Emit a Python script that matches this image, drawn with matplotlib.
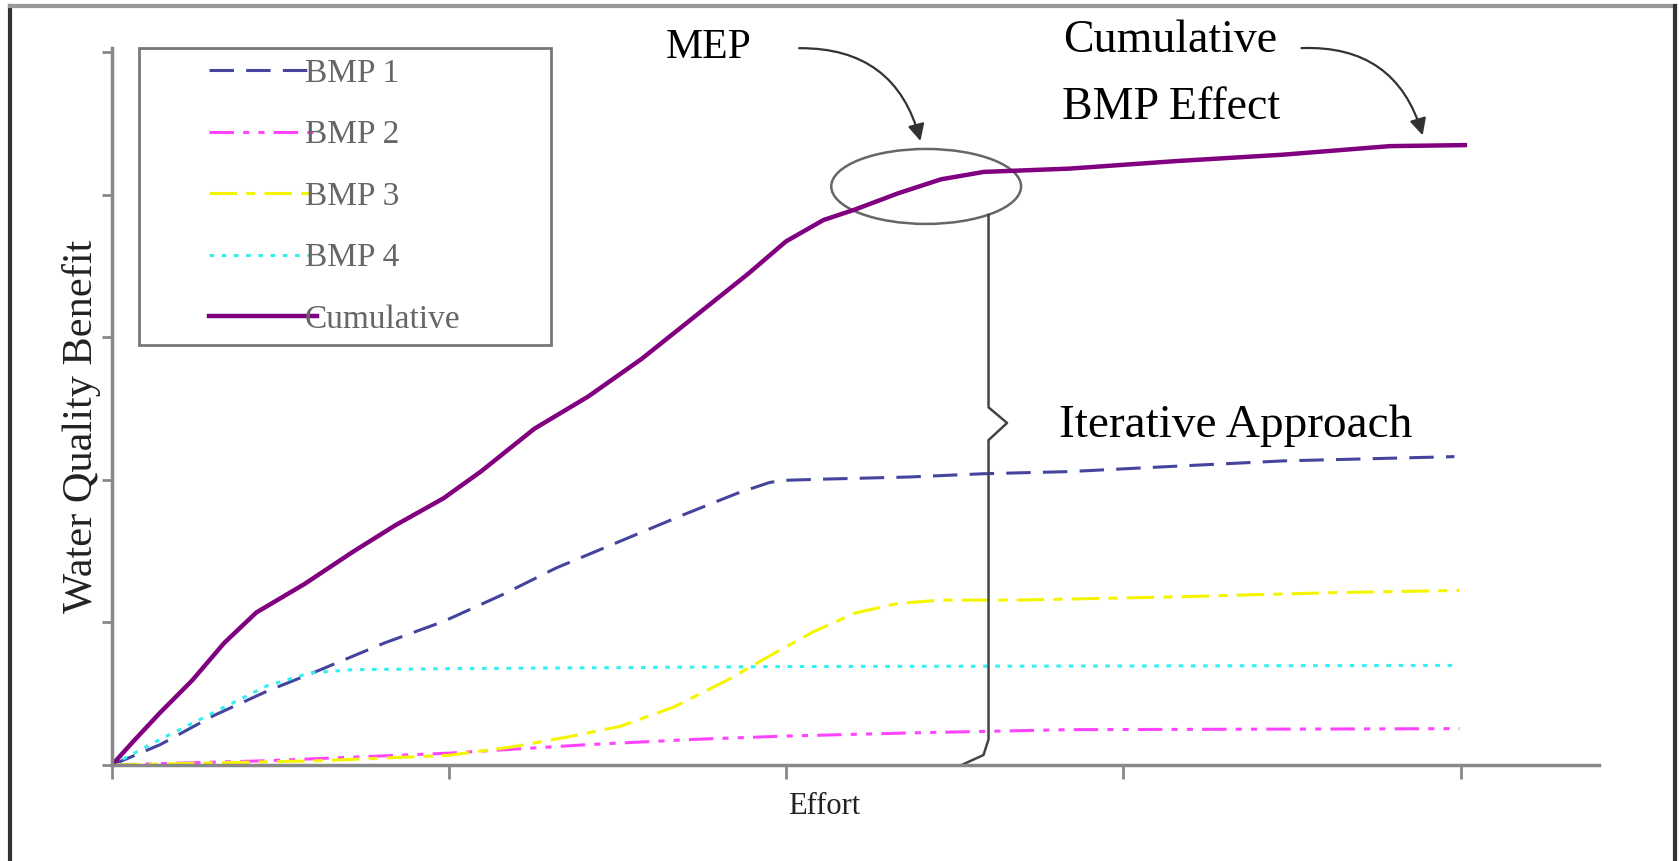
import matplotlib
matplotlib.use("Agg")
import matplotlib.pyplot as plt
from matplotlib.patches import Ellipse
from matplotlib.lines import Line2D

plt.rcParams['font.family'] = ['Liberation Serif', 'DejaVu Serif']

# values (effort, benefit)
cum_x = [0, 0.063, 0.143, 0.238, 0.333, 0.428, 0.571, 0.714, 0.841, 0.983, 1.094, 1.253,
         1.412, 1.570, 1.729, 1.888, 1.999, 2.110, 2.205, 2.332, 2.459, 2.586, 2.839,
         3.157, 3.474, 3.791, 4.013]
cum_y = [0, 0.165, 0.368, 0.594, 0.857, 1.070, 1.270, 1.495, 1.683, 1.871, 2.059, 2.360,
         2.585, 2.848, 3.148, 3.449, 3.674, 3.824, 3.899, 4.012, 4.110, 4.162, 4.185,
         4.238, 4.283, 4.343, 4.350]

bmp1_x = [0, 0.143, 0.301, 0.460, 0.619, 0.809, 0.983, 1.158, 1.317, 1.507, 1.697, 1.856,
          1.951, 1.999, 2.110, 2.364, 2.586, 2.839, 3.157, 3.474, 3.982]
bmp1_y = [0, 0.143, 0.346, 0.518, 0.669, 0.857, 1.007, 1.195, 1.382, 1.570, 1.758, 1.908,
          1.983, 1.998, 2.006, 2.021, 2.044, 2.059, 2.097, 2.134, 2.164]

bmp2_x = [0, 0.46, 0.999, 1.412, 1.729, 1.999, 2.364, 2.839, 3.997]
bmp2_y = [0, 0.03, 0.083, 0.143, 0.18, 0.203, 0.225, 0.248, 0.255]

bmp3_x = [0, 0.619, 0.999, 1.19, 1.348, 1.507, 1.666, 1.824, 1.951, 2.078, 2.205, 2.332,
          2.459, 2.681, 3.157, 3.633, 3.997]
bmp3_y = [0, 0.03, 0.068, 0.128, 0.195, 0.271, 0.406, 0.594, 0.766, 0.932, 1.067, 1.134,
          1.157, 1.157, 1.180, 1.210, 1.225]

bmp4_x = [0, 0.143, 0.301, 0.46, 0.587, 0.714, 0.999, 1.999, 3.997]
bmp4_y = [0, 0.18, 0.368, 0.556, 0.646, 0.669, 0.676, 0.691, 0.699]

# brace marking the iterative approach
brace_x = [2.60, 2.60, 2.655, 2.60, 2.60, 2.585, 2.52]
brace_y = [3.86, 2.51, 2.40, 2.28, 0.18, 0.07, 0.0]

fig = plt.figure(figsize=(16.79, 8.61), dpi=100)
ax = fig.add_axes([0.0667, 0.1115, 0.8855, 0.8325])

ax.plot(bmp1_x, bmp1_y, color='#44449e', lw=2.2, ls=(0, (8, 4)), label='BMP 1')
ax.plot(bmp2_x, bmp2_y, color='#ff44ff', lw=2.2, ls=(0, (8, 3, 2, 3, 2, 3)), label='BMP 2')
ax.plot(bmp3_x, bmp3_y, color='#f5f500', lw=2.2, ls=(0, (9, 3, 3, 3)), label='BMP 3')
ax.plot(bmp4_x, bmp4_y, color='#33f0f0', lw=2.2, ls=(0, (1.5, 2.5)), label='BMP 4')
ax.plot(cum_x, cum_y, color='#800080', lw=3.2, label='Cumulative')

ax.set_xlim(0, 4.41)
ax.set_ylim(0, 5.03)
ax.set_xticks([0, 1, 2, 3, 4])
ax.set_yticks([0, 1, 2, 3, 4, 5])
ax.set_xticklabels([])
ax.set_yticklabels([])
ax.tick_params(axis='x', length=10, width=2, color='#888888', direction='out')
ax.tick_params(axis='y', length=7, width=2, color='#888888', direction='out')
for s in ['top', 'right']:
    ax.spines[s].set_visible(False)
for s in ['left', 'bottom']:
    ax.spines[s].set_color('#888888')
    ax.spines[s].set_linewidth(2.5)

ax.set_ylabel('Water Quality Benefit', fontsize=30.5, color='#222222')
ax.yaxis.set_label_coords(-0.0075, 0.473)
ax.set_xlabel('Effort', fontsize=22, color='#222222')
ax.xaxis.set_label_coords(0.479, -0.038)

leg = ax.legend(loc='upper left', bbox_to_anchor=(0.018, 1.0, 0.277, 0.0),
                mode='expand', fontsize=24, frameon=True, fancybox=False,
                handlelength=4.68, handletextpad=0.0, labelspacing=0.93,
                borderpad=0.3, borderaxespad=0)
leg.get_frame().set_edgecolor('#555555')
leg.get_frame().set_linewidth(2)
for t in leg.get_texts():
    t.set_color('#666666')
# sample lines sit in the right part of the handle slot, as in the original
for ln in leg.get_lines():
    xd = list(ln.get_xdata())
    yd = list(ln.get_ydata())
    x0, x1 = xd[0], xd[-1]
    ln.set_data([x0 + 0.385 * (x1 - x0), x1 + 0.08 * (x1 - x0)], [yd[0], yd[0]])

# MEP ellipse and brace
ax.add_patch(Ellipse((2.415, 4.06), 0.563, 0.526, fill=False, ec='#666666', lw=1.8))
ax.plot(brace_x, brace_y, color='#444444', lw=1.8)

arrow = dict(arrowstyle='-|>', color='#333333', lw=1.6, mutation_scale=25,
             connectionstyle='arc3,rad=-0.4')
ax.text(1.77, 5.03, 'MEP', fontsize=30, ha='center', va='center')
ax.annotate('', xy=(2.40, 4.36), xytext=(2.03, 5.03), arrowprops=arrow,
            annotation_clip=False)
ax.text(3.14, 5.08, 'Cumulative', fontsize=33, ha='center', va='center')
ax.text(3.14, 4.61, 'BMP Effect', fontsize=33, ha='center', va='center')
ax.annotate('', xy=(3.89, 4.40), xytext=(3.52, 5.03), arrowprops=arrow,
            annotation_clip=False)
ax.text(2.81, 2.38, 'Iterative Approach', fontsize=34, ha='left', va='center')

# outer border of the figure
fig.add_artist(Line2D([0.006, 0.006], [0, 0.993], color='#333333', lw=3))
fig.add_artist(Line2D([0.006, 0.9976], [0.993, 0.993], color='#999999', lw=3))
fig.add_artist(Line2D([0.9976, 0.9976], [0, 0.993], color='#333333', lw=3))

fig.savefig('out.png', dpi=100)
